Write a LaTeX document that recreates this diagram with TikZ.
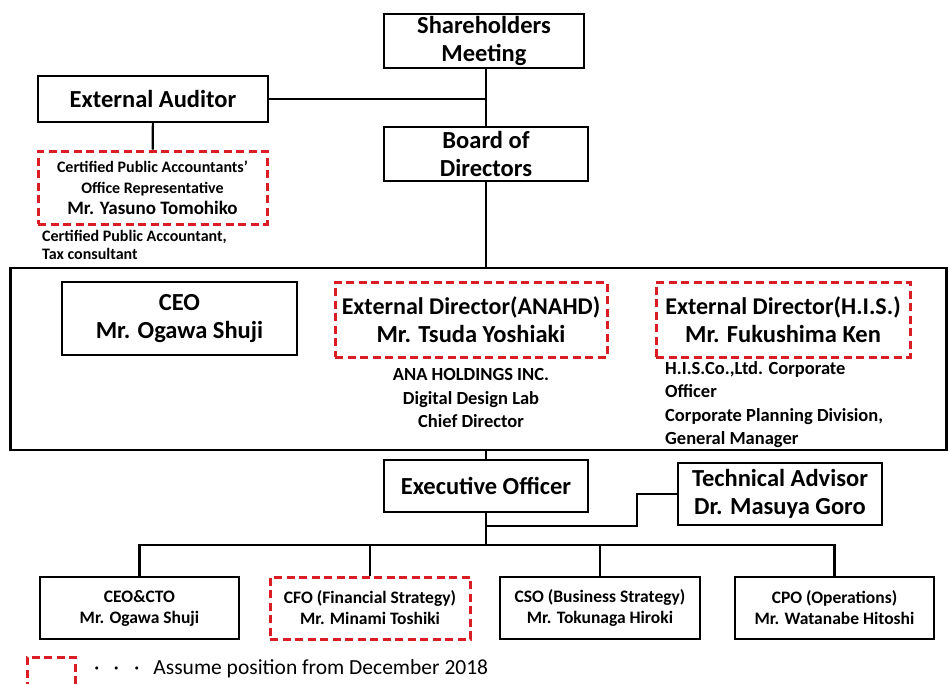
\documentclass[tikz,border=0pt]{standalone}
\usepackage{fontspec}
\setmainfont{Carlito}
\usepackage{xcolor}
\usetikzlibrary{positioning,calc}
\definecolor{dashred}{RGB}{218,28,36}

\begin{document}
\begin{tikzpicture}[
    x=1pt, y=-1pt,
    box/.style={rectangle, draw, line width=2.2pt, align=center, inner sep=0pt, font=\fontsize{24.5}{28.5}\selectfont\bfseries},
    newbox/.style={box, draw=dashred, line width=3pt, dash pattern=on 8pt off 4.5pt},
    small/.style={font=\fontsize{17.5}{21}\selectfont\bfseries},
    note/.style={align=center, inner sep=0pt, font=\fontsize{18.5}{23.5}\selectfont\bfseries},
    link/.style={line width=2.2pt}
  ]
  \useasboundingbox (0,0) rectangle (949,683);

  % Top level
  \node[box, minimum width=200, minimum height=54] (share) at (484,41) {Shareholders\\Meeting};
  \node[box, minimum width=204, minimum height=54] (board) at (486,154) {Board of\\Directors};
  \node[box, minimum width=230, minimum height=46] (auditor) at (153,99) {External Auditor};
  \node[newbox, minimum width=229, minimum height=73, font=\fontsize{16}{21}\selectfont\bfseries] (accnt) at (152.5,187.5)
    {Certified Public Accountants'\\
     Office Representative\\
     {\fontsize{19}{21}\selectfont Mr. Yasuno Tomohiko}};
  \node[note, align=left, anchor=north west, font=\fontsize{16}{18.5}\selectfont\bfseries] (accntnote) at (42,230)
    {Certified Public Accountant,\\Tax consultant};

  % Directors group
  \node[draw, line width=2.2pt, minimum width=936, minimum height=182, inner sep=0pt] (grp) at (478.5,359) {};
  \node[box, minimum width=235, minimum height=73] (ceo) at (179.5,318.5) {CEO\\Mr. Ogawa Shuji};
  \node[newbox, minimum width=272, minimum height=75] (anahd) at (471,319.5)
    {\fontsize{24}{27}\selectfont External Director(ANAHD)\\Mr. Tsuda Yoshiaki};
  \node[note, below=10pt of anahd] (anahdnote) {ANA HOLDINGS INC.\\Digital Design Lab\\Chief Director};
  \node[newbox, minimum width=254, minimum height=75] (his) at (783,319.5)
    {\fontsize{24}{27}\selectfont External Director(H.I.S.)\\Mr. Fukushima Ken};
  \node[note, align=left, anchor=north west] (hisnote) at (665,361)
    {H.I.S.Co.,Ltd. Corporate\\Officer\\Corporate Planning Division,\\General Manager};

  % Executive level
  \node[box, minimum width=204, minimum height=52] (exec) at (486,486) {Executive Officer};
  \node[box, minimum width=204, minimum height=62] (advisor) at (780,494) {Technical Advisor\\Dr. Masuya Goro};

  % Officers
  \node[box, small, minimum width=199, minimum height=62] (cto) at (139.5,608) {CEO\&CTO\\Mr. Ogawa Shuji};
  \node[newbox, small, minimum width=200, minimum height=62] (cfo) at (370,608) {CFO (Financial Strategy)\\Mr. Minami Toshiki};
  \node[box, small, minimum width=200, minimum height=62] (cso) at (600,608) {CSO (Business Strategy)\\Mr. Tokunaga Hiroki};
  \node[box, small, minimum width=199, minimum height=62] (cpo) at (834.5,608) {CPO (Operations)\\Mr. Watanabe Hitoshi};

  % Connectors
  \coordinate (bus) at (486,545);
  \coordinate (advj) at (637,526);
  \draw[link] (board |- share.south) -- (board);
  \draw[link] (auditor.east) -- (auditor.east -| board);
  \draw[link] (auditor) -- (accnt);
  \draw[link] (board) -- (board |- grp.north);
  \draw[link] (exec |- grp.south) -- (exec);
  \draw[link] (exec) -- (exec |- bus);
  \draw[link] (advisor.west) -| (advj) -- (advj -| exec);
  \draw[link] (cto.north) -- (cto |- bus) -- (cpo |- bus) -- (cpo.north);
  \foreach \n in {cfo,cso}
    \draw[link] (\n.north) -- (\n |- bus);

  % Legend
  \draw[dashred, line width=3pt, dash pattern=on 8pt off 4.5pt] (27,690) -- (27,657) -- (75,657) -- (75,690);
  \node[anchor=west, inner sep=0pt, font=\fontsize{21.5}{25}\selectfont] (legend) at (94,669)
    {\textperiodcentered\hspace{14pt}\textperiodcentered\hspace{15pt}\textperiodcentered\hspace{14pt}Assume position from December 2018};
\end{tikzpicture}
\end{document}
